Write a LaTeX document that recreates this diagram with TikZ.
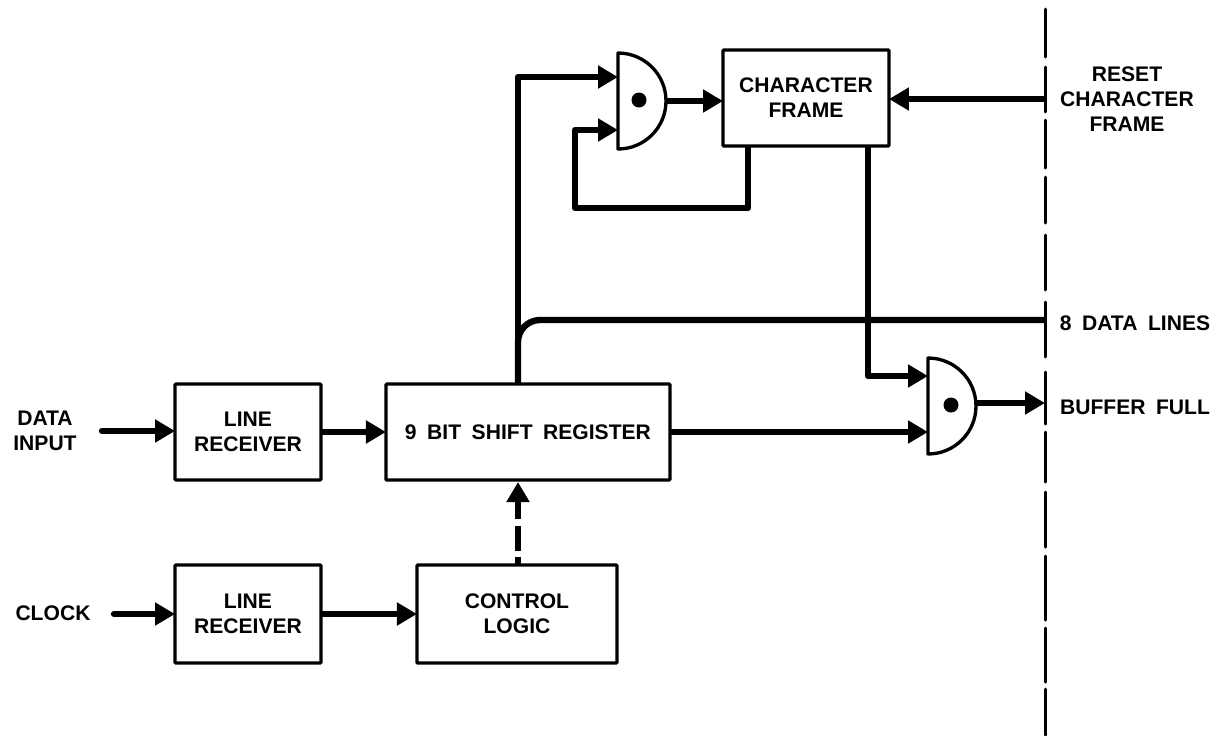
\documentclass[tikz,border=0pt]{standalone}
\usepackage{fontspec}
\setmainfont{Liberation Sans}
\usepackage{xcolor}
\usetikzlibrary{positioning,arrows.meta}
\newcommand{\labelfont}{\fontsize{12}{14.2}\selectfont\bfseries\spaceskip=0.5em\relax}

\begin{document}
\begin{tikzpicture}[
  x=0.02cm, y=-0.02cm,
  font=\labelfont,
  box/.style={draw, align=center, minimum height=1.92cm, inner sep=0pt, outer sep=0pt, line width=1.9pt, rounded corners=0.5pt},
  gate/.style={minimum width=0.96cm, minimum height=1.92cm, inner sep=0pt, outer sep=0pt},
  gateline/.style={line width=1.9pt, line join=round},
  gatedot/.style={circle, fill=black, minimum size=0.3cm, inner sep=0pt},
  lbl/.style={align=center, inner sep=0pt},
  arr/.style={-{Triangle[length=4mm, width=4.4mm]}, line width=3.6pt, line join=round},
  bus/.style={line width=3.6pt},
  bound/.style={line width=1.7pt, line cap=round},
  node distance=1.3cm and 1.3cm]

\useasboundingbox (0,0) rectangle (1228,735);

\node[box, minimum width=2.92cm] (lineA) at (248,432) {LINE\\RECEIVER};
\node[box, minimum width=5.68cm, right=1.3cm of lineA] (shift) {9 BIT SHIFT REGISTER};
\node[box, minimum width=2.92cm, minimum height=1.96cm] (lineB) at (248,614) {LINE\\RECEIVER};
\node[box, minimum width=4cm, minimum height=1.96cm, right=1.92cm of lineB] (ctrl) {CONTROL\\LOGIC};
\node[box, minimum width=3.32cm] (frame) at (806,98) {CHARACTER\\FRAME};

\node[gate] (gateA) at (642,101) {};
\node[gate] (gateB) at (952,406) {};
\foreach \g in {gateA,gateB}
  \draw[gateline] (\g.north west) -- (\g.south west) arc[start angle=-90, end angle=90, x radius=0.96cm, y radius=0.96cm] -- cycle;
\node[gatedot] (dotA) at (639,100) {};
\node[gatedot] (dotB) at (951,405) {};

\node[lbl] (datain) at (45,431) {DATA\\INPUT};
\node[lbl] (clock) at (53,613) {CLOCK};
\node[lbl] (resetlbl) at (1127,99) {RESET\\CHARACTER\\FRAME};
\node[lbl] (datalbl) at (1135,323) {8 DATA LINES};
\node[lbl] (fulllbl) at (1135,407) {BUFFER FULL};

% board edge
\foreach \ya/\yb in {9/57,67/112,120/168,177/223,235/290,302/357,372/424,432/482,492/547,556/620,628/682,689/735}
  \draw[bound] (1045,\ya) -- (1045,\yb);

\coordinate (datafree) at (102,431);
\coordinate (clockfree) at (114,614);
\coordinate (busfoot) at (518,384);
\coordinate (ctrlfoot) at (518,565);
\coordinate (shiftfoot) at (518,482);
\coordinate (inAa) at (618,77);
\coordinate (inAb) at (618,130);
\coordinate (inBa) at (928,376);
\coordinate (inBb) at (928,432);
\coordinate (fbfoot) at (748,146);
\coordinate (fbturn) at (575,208);
\coordinate (downfoot) at (868,146);
\coordinate (resetpt) at (1045,99);
\coordinate (linesend) at (1045,320);
\coordinate (fullpt) at (1045,403);

\draw[arr, line cap=round] (datafree) -- (lineA.west |- datafree);
\draw[arr, line cap=round] (clockfree) -- (lineB);
\draw[arr] (lineA) -- (shift);
\draw[arr] (lineB) -- (ctrl);
\draw[arr, dash pattern=on 0.16cm off 0.12cm on 0.5cm off 0.14cm on 1.5cm] (ctrlfoot) -- (shiftfoot);
\draw[arr] (busfoot) |- (inAa);
\draw[arr] (fbfoot) |- (fbturn) |- (inAb);
\draw[arr] (gateA.east) -- (gateA.east -| frame.west);
\draw[arr] (resetpt) -- (resetpt -| frame.east);
\draw[arr] (downfoot) |- (inBa);
\draw[arr] (shift) -- (inBb);
\draw[arr] (fullpt -| gateB.east) -- (fullpt);
\draw[bus, rounded corners=0.44cm] (busfoot) |- (linesend);
\end{tikzpicture}
\end{document}
